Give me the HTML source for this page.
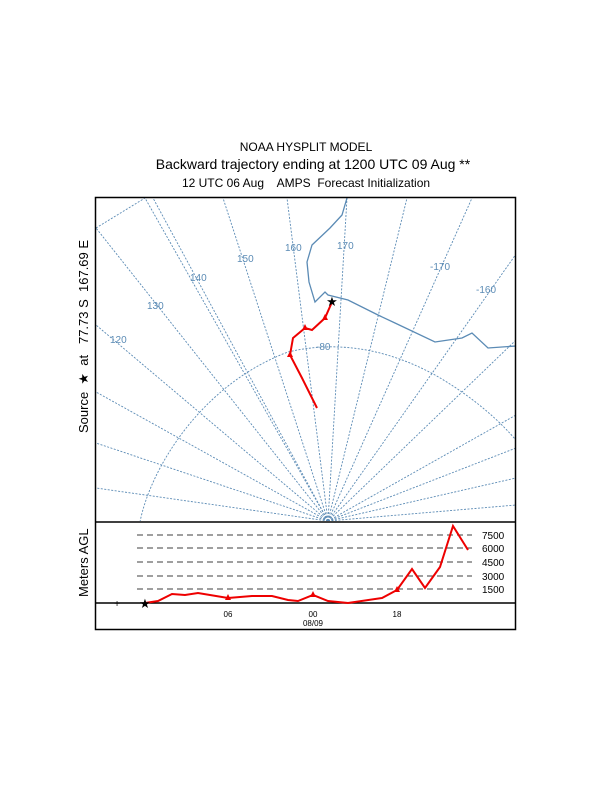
<!DOCTYPE html>
<html><head><style>body{margin:0;background:#fff}</style></head><body>
<svg width="612" height="792" xmlns="http://www.w3.org/2000/svg" font-family="Liberation Sans, Arial, sans-serif">
<rect width="612" height="792" fill="#fff"/>
<text x="306" y="151" font-size="12" text-anchor="middle">NOAA HYSPLIT MODEL</text>
<text x="313" y="169" font-size="14" text-anchor="middle">Backward trajectory ending at 1200 UTC 09 Aug **</text>
<text x="306" y="187" font-size="12" text-anchor="middle" xml:space="preserve">12 UTC 06 Aug    AMPS  Forecast Initialization</text>
<text transform="translate(88,433) rotate(-90)" font-size="13" xml:space="preserve">Source  ★  at   77.73 S  167.69 E</text>
<text transform="translate(88,597) rotate(-90)" font-size="13">Meters AGL</text>
<defs><clipPath id="c"><rect x="96" y="198" width="419" height="323"/></clipPath></defs>
<g clip-path="url(#c)" stroke="#5b8bb5" stroke-width="0.9" fill="none" stroke-dasharray="2,1.5">
<line x1="328" y1="521" x2="145" y2="198"/><line x1="328" y1="521" x2="153" y2="198"/>
<line x1="328" y1="521" x2="223" y2="198"/><line x1="328" y1="521" x2="287" y2="198"/>
<line x1="328" y1="521" x2="347" y2="198"/><line x1="328" y1="521" x2="407" y2="198"/>
<line x1="328" y1="521" x2="472" y2="198"/><line x1="328" y1="521" x2="540" y2="220"/>
<line x1="328" y1="521" x2="96" y2="228"/><line x1="328" y1="521" x2="96" y2="325"/>
<line x1="328" y1="521" x2="96" y2="392"/><line x1="328" y1="521" x2="96" y2="443"/>
<line x1="328" y1="521" x2="96" y2="488"/>
<line x1="328" y1="521" x2="516" y2="340"/><line x1="328" y1="521" x2="516" y2="415"/>
<line x1="328" y1="521" x2="516" y2="448"/><line x1="328" y1="521" x2="516" y2="478"/>
<line x1="328" y1="521" x2="516" y2="505"/>
<path d="M140,522 C150,470 200,385 288,352 C330,342 380,345 435,375 C470,395 500,420 520,445"/>
<path d="M96,228 L145,198"/>
<path d="M516,255 L540,230"/>
</g>
<polyline clip-path="url(#c)" fill="none" stroke="#5b8bb5" stroke-width="1.3" points="347,198 342,215 330,228 312,245 307,262 309,282 315,302 325,292 328,295 348,300 378,315 395,323 435,342 462,338 472,333 488,348 516,346"/>
<g fill="#5b8bb5" font-size="10">
<text x="285" y="251">160</text><text x="337" y="249">170</text><text x="237" y="262">150</text>
<text x="190" y="281">140</text><text x="147" y="309">130</text><text x="110" y="343">120</text>
<text x="430" y="270">-170</text><text x="476" y="293">-160</text><text x="316" y="350">-80</text>
</g>
<polyline fill="none" stroke="#e00" stroke-width="2" points="332,302 325,318 312,330 305,328 293,338 290,355 302,378 317,408"/>
<g fill="#e00"><path d="M325,314 l3,6 h-6z"/><path d="M305,324 l3,6 h-6z"/><path d="M290,351 l3,6 h-6z"/></g>
<text x="332" y="306" font-size="13" text-anchor="middle">★</text>
<rect x="95.5" y="197.5" width="420" height="432" fill="none" stroke="#000" stroke-width="1.5"/>
<line x1="95" y1="522" x2="516" y2="522" stroke="#000" stroke-width="1.5"/>
<line x1="95" y1="603" x2="516" y2="603" stroke="#000" stroke-width="1.5"/>
<g stroke="#000" stroke-dasharray="6,4" stroke-width="0.8">
<line x1="137" y1="535" x2="472" y2="535"/><line x1="137" y1="548" x2="472" y2="548"/>
<line x1="137" y1="562" x2="472" y2="562"/><line x1="137" y1="576" x2="472" y2="576"/>
<line x1="137" y1="589" x2="472" y2="589"/>
</g>
<g font-size="10"><text x="482" y="539">7500</text><text x="482" y="552">6000</text><text x="482" y="566">4500</text><text x="482" y="580">3000</text><text x="482" y="593">1500</text></g>
<g font-size="8" text-anchor="middle"><text x="228" y="617">06</text><text x="313" y="617">00</text><text x="397" y="617">18</text><text x="313" y="626">08/09</text></g>
<polyline fill="none" stroke="#e00" stroke-width="2" points="145,603 158,601 172,594 185,595 198,593 228,598 252,596 272,596 288,600 298,601 313,595 328,601 348,603 382,598 397,590 412,569 425,588 440,567 453,526 468,550"/>
<g fill="#e00"><path d="M228,594 l3,6 h-6z"/><path d="M313,591 l3,6 h-6z"/><path d="M397,586 l3,6 h-6z"/></g>
<text x="117" y="607" font-size="10" text-anchor="middle">+</text>
<text x="145" y="608" font-size="13" text-anchor="middle">★</text>
</svg>
</body></html>
